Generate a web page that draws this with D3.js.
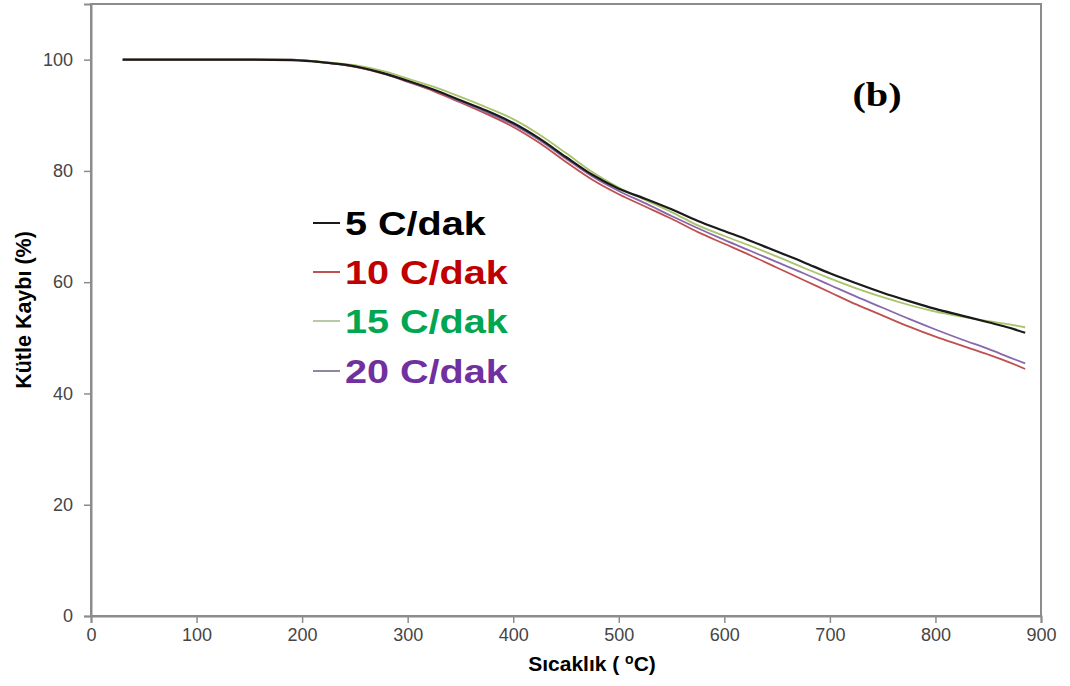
<!DOCTYPE html>
<html>
<head>
<meta charset="utf-8">
<script src="https://cdn.jsdelivr.net/npm/d3@7"></script>
<style>
  html, body { margin: 0; padding: 0; background: #fff; }
  svg { display: block; }
</style>
</head>
<body>
<svg id="chart" width="1070" height="686"></svg>
<script>
// Temperature grid (°C) shared by the TGA curves
const temps = [30, 100, 150, 190, 220, 250, 280, 300, 325, 350, 375, 400, 425, 450, 475,
               500, 525, 550, 575, 600, 625, 650, 675, 700, 725, 750, 775, 800, 825, 850, 870, 885];

// Mass remaining (%) for each heating rate
const rate5  = [100, 100, 100, 99.9, 99.5, 98.8, 97.4, 96.2, 94.6, 92.7, 90.8, 88.6, 85.8, 82.5, 79.3,
                76.8, 75.0, 73.1, 71.0, 69.2, 67.4, 65.5, 63.6, 61.6, 59.8, 58.1, 56.6, 55.2, 54.0, 52.8, 51.8, 50.9];
const rate10 = [100, 100, 100, 100, 99.5, 98.7, 97.3, 96.0, 94.3, 92.3, 90.2, 87.9, 85.0, 81.6, 78.4,
                75.8, 73.6, 71.4, 69.0, 66.9, 64.8, 62.6, 60.4, 58.2, 56.0, 54.0, 52.0, 50.2, 48.6, 47.0, 45.6, 44.4];
const rate15 = [100, 100, 100, 100, 99.6, 99.0, 97.8, 96.6, 95.1, 93.3, 91.4, 89.3, 86.5, 83.2, 79.8,
                77.0, 74.8, 72.6, 70.2, 68.3, 66.5, 64.6, 62.6, 60.7, 58.9, 57.3, 55.9, 54.7, 53.8, 53.0, 52.4, 51.9];
const rate20 = [100, 100, 100, 100, 99.5, 98.8, 97.4, 96.1, 94.5, 92.5, 90.5, 88.3, 85.5, 82.2, 79.0,
                76.4, 74.2, 71.9, 69.7, 67.6, 65.6, 63.6, 61.6, 59.5, 57.4, 55.4, 53.4, 51.5, 49.7, 48.0, 46.5, 45.4];

const seriesNames  = ["5 C/dak", "10 C/dak", "15 C/dak", "20 C/dak"];
const seriesValues = [rate5, rate10, rate15, rate20];
const lineColors   = ["#1a1a1a", "#c0504d", "#a9c46a", "#8868ac"];
const legendLineColors = ["#1a1a1a", "#c0504d", "#b8c8a8", "#8f86a0"];
const labelColors  = ["#000000", "#c00000", "#00a651", "#7030a0"];

const xTicks = [0, 100, 200, 300, 400, 500, 600, 700, 800, 900];
const yTicks = [0, 20, 40, 60, 80, 100];

const svg = d3.select("#chart");
const plotLeft = 91, plotRight = 1041, plotTop = 4, plotBottom = 616;

const x = d3.scaleLinear().domain([0, 900]).range([plotLeft, plotRight]);
const y = d3.scaleLinear().domain([0, 110]).range([plotBottom, plotTop]);

const frameColor = "#8c8c8c";
const sans = "Arial, 'Liberation Sans', sans-serif";

// Plot frame
svg.append("rect")
  .attr("x", plotLeft).attr("y", plotTop)
  .attr("width", plotRight - plotLeft).attr("height", plotBottom - plotTop)
  .attr("fill", "none").attr("stroke", frameColor).attr("stroke-width", 2);

// Axes
const xAxis = svg.append("g")
  .attr("transform", `translate(0,${plotBottom})`)
  .call(d3.axisBottom(x).tickValues(xTicks).tickSize(7).tickPadding(5).tickFormat(d3.format("d")));
const yAxis = svg.append("g")
  .attr("transform", `translate(${plotLeft},0)`)
  .call(d3.axisLeft(y).tickValues(yTicks).tickSize(7).tickPadding(11).tickFormat(d3.format("d")));

[xAxis, yAxis].forEach(g => {
  g.select(".domain").attr("stroke", frameColor).attr("stroke-width", 2);
  g.selectAll(".tick line").attr("stroke", frameColor).attr("stroke-width", 1.5);
  g.selectAll(".tick text")
    .attr("fill", "#454545")
    .style("font-family", sans)
    .style("font-size", "18px");
});

// Curves
const line = d3.line()
  .x((d, i) => x(temps[i]))
  .y(d => y(d))
  .curve(d3.curveMonotoneX);

const drawOrder = [1, 3, 2, 0];
drawOrder.forEach(k => {
  svg.append("path")
    .datum(seriesValues[k])
    .attr("d", line)
    .attr("fill", "none")
    .attr("stroke", lineColors[k])
    .attr("stroke-width", k === 0 ? 2.2 : 1.8)
    .attr("stroke-linejoin", "round");
});

// Legend
const legend = svg.append("g");
const legendBase = [235, 284, 333, 383];
seriesNames.forEach((name, i) => {
  legend.append("line")
    .attr("x1", 313).attr("x2", 340)
    .attr("y1", legendBase[i] - 12).attr("y2", legendBase[i] - 12)
    .attr("stroke", legendLineColors[i]).attr("stroke-width", 2);
  legend.append("text")
    .attr("transform", `translate(345,${legendBase[i]}) scale(1.2,1)`)
    .attr("fill", labelColors[i])
    .style("font-family", sans)
    .style("font-weight", "bold")
    .style("font-size", "33px")
    .text(name);
});

// Panel label
svg.append("text")
  .attr("transform", "translate(877,106) scale(1.22,1)")
  .attr("text-anchor", "middle")
  .style("font-family", "'Liberation Serif', 'Times New Roman', serif")
  .style("font-weight", "bold")
  .style("font-size", "33px")
  .text("(b)");

// Axis titles
const xTitle = svg.append("text")
  .attr("x", 592).attr("y", 671)
  .attr("text-anchor", "middle")
  .style("font-family", sans)
  .style("font-weight", "bold")
  .style("font-size", "21px");
xTitle.append("tspan").text("Sıcaklık ( ");
xTitle.append("tspan").attr("dy", -7).style("font-size", "14px").text("o");
xTitle.append("tspan").attr("dy", 7).text("C)");

svg.append("text")
  .attr("transform", "translate(31,310) rotate(-90)")
  .attr("text-anchor", "middle")
  .style("font-family", sans)
  .style("font-weight", "bold")
  .style("font-size", "21.5px")
  .text("Kütle Kaybı (%)");
</script>
</body>
</html>
